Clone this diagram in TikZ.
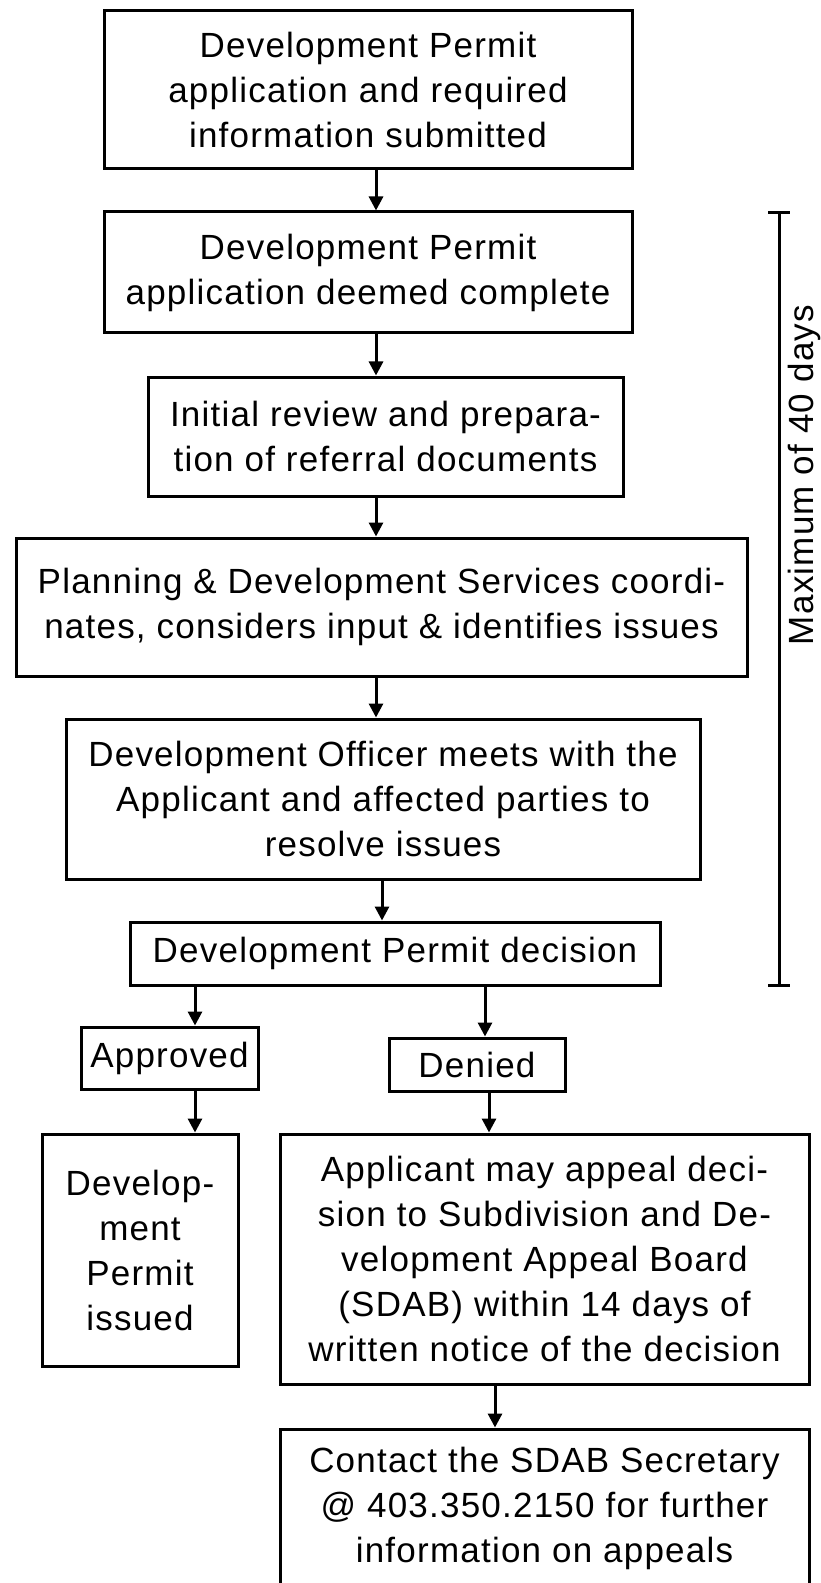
\documentclass[tikz,border=0pt]{standalone}
\usepackage{fontspec}
\setmainfont{Liberation Sans}[LetterSpace=3.5]
\usetikzlibrary{arrows.meta}
\begin{document}
\begin{tikzpicture}[x=0.5pt,y=-0.5pt]
	\tikzstyle{box}=[rectangle,draw,align=center,line width=1.5pt,inner sep=0pt,font=\fontsize{17.5}{22.5}\selectfont]
	\tikzstyle{edge}=[-{Triangle[length=7pt,width=7pt]},line width=1.5pt]
	\useasboundingbox (0,0) rectangle (820,1583);
	
	\node [box, minimum width=264pt, minimum height=79pt] (s0) at (368, 90) {Development Permit\\application and required\\information submitted};
	\node [box, minimum width=264pt, minimum height=60.5pt] (s1) at (368, 272.5) {Development Permit\\application deemed complete};
	\node [box, minimum width=237.5pt, minimum height=59.5pt] (s2) at (385.5, 436.5) {Initial review and prepara-\\tion of referral documents};
	\node [box, minimum width=365.5pt, minimum height=69pt] (s3) at (381.5, 607) {Planning \& Development Services coordi-\\nates, considers input \& identifies issues};
	\node [box, minimum width=317pt, minimum height=80pt] (s4) at (383, 799) {Development Officer meets with the\\Applicant and affected parties to\\resolve issues};
	\node [box, minimum width=265pt, minimum height=31.5pt] (dec) at (395, 953.5) {Development Permit decision};
	
	\node [box, minimum width=88.5pt, minimum height=31pt] (app) at (169.5, 1058) {Approved};
	\node [box, minimum width=88pt, minimum height=26.5pt] (den) at (477, 1064.5) {Denied};
	\node [box, minimum width=98pt, minimum height=116pt] (iss) at (140, 1250) {Develop-\\ment\\Permit\\issued};
	\node [box, minimum width=264.5pt, minimum height=125pt] (apl) at (544.5, 1259) {Applicant may appeal deci-\\sion to Subdivision and De-\\velopment Appeal Board\\(SDAB) within 14 days of\\written notice of the decision};
	\node [box, minimum width=264.5pt, minimum height=79pt] (sdab) at (544.5, 1508) {Contact the SDAB Secretary\\@ 403.350.2150 for further\\information on appeals};
	
	\draw[edge] (s0.south -| 376,0) -- (s1.north -| 376,0);
	\draw[edge] (s1.south -| 376,0) -- (s2.north -| 376,0);
	\draw[edge] (s2.south -| 376,0) -- (s3.north -| 376,0);
	\draw[edge] (s3.south -| 376,0) -- (s4.north -| 376,0);
	\draw[edge] (s4.south -| 382,0) -- (dec.north -| 382,0);
	\draw[edge] (dec.south -| 195,0) -- (app.north -| 195,0);
	\draw[edge] (dec.south -| 485,0) -- (den.north -| 485,0);
	\draw[edge] (app.south -| 195,0) -- (iss.north -| 195,0);
	\draw[edge] (den.south -| 489,0) -- (apl.north -| 489,0);
	\draw[edge] (apl.south -| 495,0) -- (sdab.north -| 495,0);
	
	\coordinate (mtop) at (779, 213);
	\coordinate (mbot) at (779, 985);
	\draw[line width=1.5pt] (mtop) -- (mbot);
	\draw[line width=1.5pt] ([xshift=-5.5pt]mtop) -- ([xshift=5.5pt]mtop);
	\draw[line width=1.5pt] ([xshift=-5.5pt]mbot) -- ([xshift=5.5pt]mbot);
	\node [rotate=90, font=\fontsize{17.5}{22.5}\selectfont] (maxd) at (804, 475) {Maximum of 40 days};
\end{tikzpicture}
\end{document}
